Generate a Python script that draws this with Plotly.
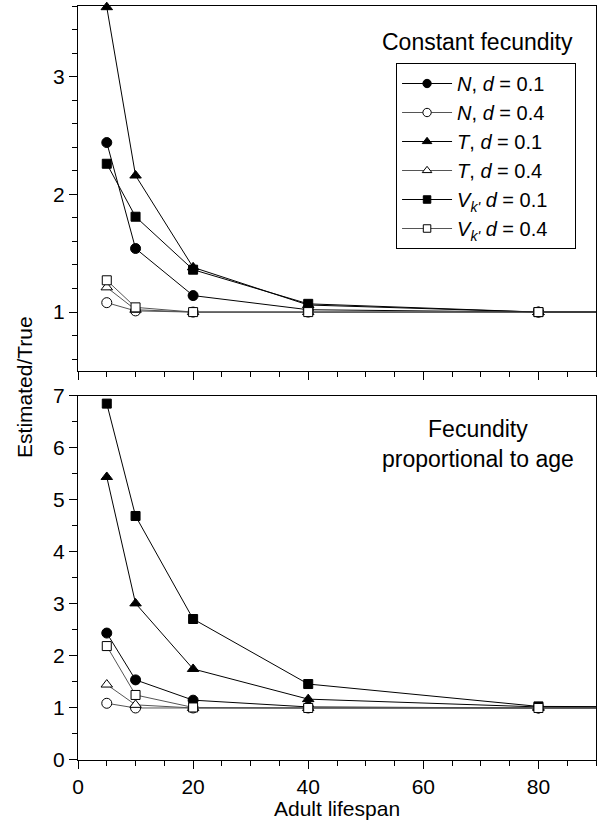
import plotly.graph_objects as go

# Data
lifespan = [5, 10, 20, 40, 80, 160]

# Constant fecundity (top panel)
top_N_01 = [2.44, 1.54, 1.14, 1.02, 1.00, 1.00]
top_N_04 = [1.08, 1.01, 1.00, 1.00, 1.00, 1.00]
top_T_01 = [3.59, 2.16, 1.38, 1.06, 1.00, 1.00]
top_T_04 = [1.21, 1.02, 1.00, 1.00, 1.00, 1.00]
top_V_01 = [2.26, 1.81, 1.36, 1.07, 1.00, 1.00]
top_V_04 = [1.27, 1.04, 1.00, 1.00, 1.00, 1.00]

# Fecundity proportional to age (bottom panel)
bot_N_01 = [2.44, 1.54, 1.15, 1.02, 1.00, 1.00]
bot_N_04 = [1.09, 1.00, 1.00, 1.00, 1.00, 1.00]
bot_T_01 = [5.44, 3.01, 1.75, 1.17, 1.02, 1.00]
bot_T_04 = [1.45, 1.06, 1.00, 1.00, 1.00, 1.00]
bot_V_01 = [6.85, 4.69, 2.71, 1.46, 1.03, 1.00]
bot_V_04 = [2.19, 1.25, 1.01, 1.00, 1.00, 1.00]

PAD = "\u00a0" * 4
names = [
    "<i>N</i>, <i>d</i> = 0.1" + PAD,
    "<i>N</i>, <i>d</i> = 0.4" + PAD,
    "<i>T</i>, <i>d</i> = 0.1" + PAD,
    "<i>T</i>, <i>d</i> = 0.4" + PAD,
    "<i>V</i><sub><i>k'</i></sub> <i>d</i> = 0.1" + PAD,
    "<i>V</i><sub><i>k'</i></sub> <i>d</i> = 0.4" + PAD,
]
symbols = ["circle", "circle", "triangle-up", "triangle-up", "square", "square"]
fills = ["black", "white", "black", "white", "black", "white"]
linecols = ["#000000", "#555555", "#000000", "#555555", "#000000", "#555555"]
sizes = [10, 10, 10, 10, 9, 9]

top_series = [top_N_01, top_N_04, top_T_01, top_T_04, top_V_01, top_V_04]
bot_series = [bot_N_01, bot_N_04, bot_T_01, bot_T_04, bot_V_01, bot_V_04]

FONT = "Liberation Sans, Arial, sans-serif"

fig = go.Figure()

def add_series(series_list, xa, ya, showlegend):
    for i, ys in enumerate(series_list):
        sz = [sizes[i]] * (len(lifespan) - 1) + [0]
        fig.add_trace(go.Scatter(
            x=lifespan, y=ys, xaxis=xa, yaxis=ya,
            mode="lines+markers", name=names[i], legendgroup=str(i),
            showlegend=showlegend, cliponaxis=False,
            line=dict(color=linecols[i], width=1),
            marker=dict(symbol=symbols[i], size=sz, color=fills[i], opacity=1,
                        line=dict(color="black", width=1)),
        ))

add_series(top_series, "x", "y", True)
add_series(bot_series, "x2", "y2", False)

axis_common = dict(
    showline=True, linecolor="black", linewidth=1, mirror=True,
    ticks="outside", ticklen=8, tickwidth=1, tickcolor="black",
    showgrid=False, zeroline=False, automargin=False,
    tickfont=dict(family=FONT, size=21, color="black"),
)

fig.update_layout(
    width=598, height=828,
    margin=dict(l=78, r=2, t=6, b=68, autoexpand=False),
    paper_bgcolor="white", plot_bgcolor="white",
    font=dict(family=FONT, size=21, color="black"),
    xaxis=dict(anchor="y", range=[0, 90], dtick=20, showticklabels=False,
               minor=dict(dtick=5, ticklen=5, ticks="outside", tickcolor="black"),
               **axis_common),
    yaxis=dict(domain=[0.516, 1], range=[0.5, 3.6], dtick=1,
               minor=dict(dtick=0.2, ticklen=5, ticks="outside", tickcolor="black"),
               **axis_common),
    xaxis2=dict(anchor="y2", range=[0, 90], dtick=20,
                minor=dict(dtick=5, ticklen=5, ticks="outside", tickcolor="black"),
                **axis_common),
    yaxis2=dict(domain=[0, 0.483], range=[0, 7], dtick=1,
                minor=dict(dtick=0.5, ticklen=5, ticks="outside", tickcolor="black"),
                **axis_common),
    legend=dict(x=0.614, y=0.9244, xanchor="left", yanchor="top",
                bgcolor="white", bordercolor="black", borderwidth=1,
                font=dict(family=FONT, size=20, color="black"),
                itemwidth=50, tracegroupgap=0),
    annotations=[
        dict(text="Constant fecundity", xref="paper", yref="paper",
             x=0.772, y=0.952, xanchor="center", yanchor="middle",
             showarrow=False, font=dict(family=FONT, size=23)),
        dict(text="Fecundity<br>proportional to age", xref="paper", yref="paper",
             x=0.772, y=0.419, xanchor="center", yanchor="middle",
             showarrow=False, font=dict(family=FONT, size=23)),
        dict(text="Estimated/True", xref="paper", yref="paper",
             x=-0.102, y=0.495, xanchor="center", yanchor="middle",
             textangle=-90, showarrow=False, font=dict(family=FONT, size=21)),
        dict(text="Adult lifespan", xref="paper", yref="paper",
             x=0.5, y=-0.064, xanchor="center", yanchor="middle",
             showarrow=False, font=dict(family=FONT, size=21)),
    ],
)

fig.write_html("out.html")
